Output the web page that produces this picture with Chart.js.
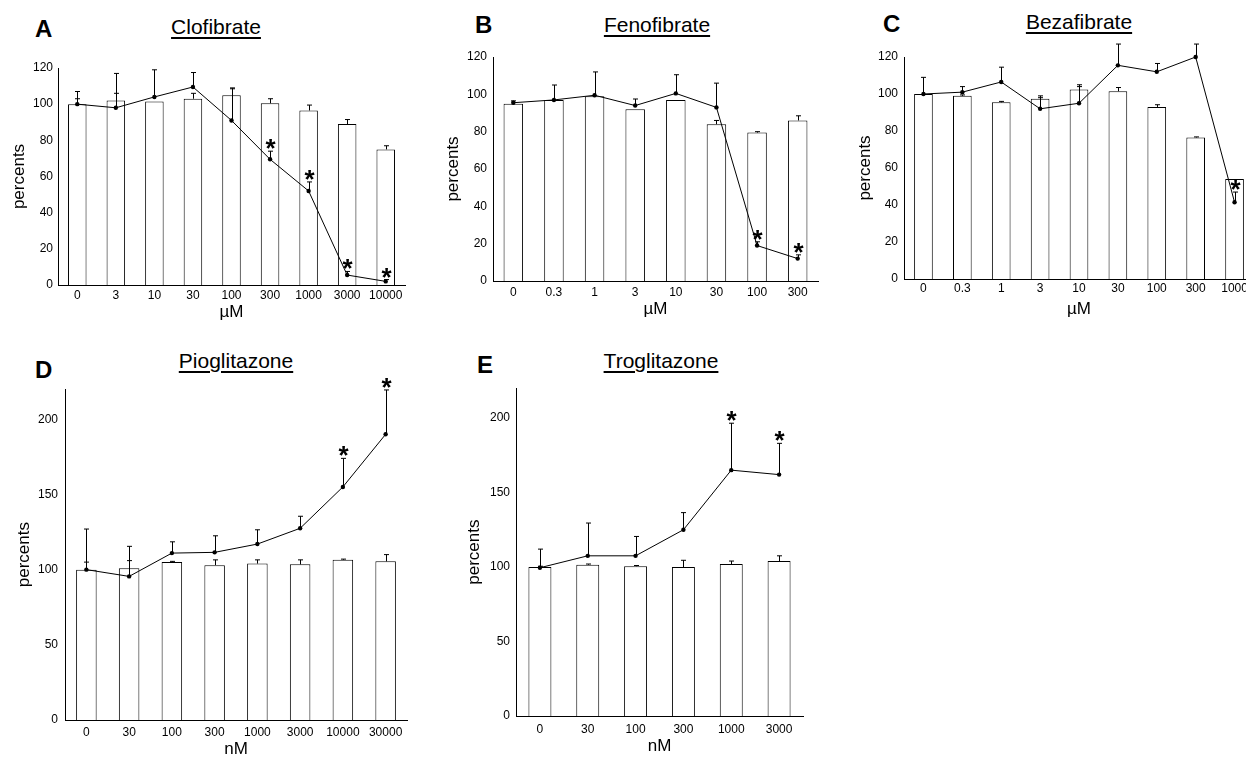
<!DOCTYPE html>
<html>
<head>
<meta charset="utf-8">
<title>Fibrates and glitazones</title>
<script src="https://cdn.jsdelivr.net/npm/chart.js@4.4.1/dist/chart.umd.min.js"></script>
<style>
    body { margin: 0; width: 1246px; height: 757px; overflow: hidden; background: #fff; position: relative;
           font-family: "Liberation Sans", Arial, sans-serif; color: #000; }
    canvas { position: absolute; }
    .letter { position: absolute; font-weight: bold; font-size: 24px; line-height: 24px; }
    .title { position: absolute; font-size: 21px; line-height: 21px; white-space: nowrap; transform: translateX(-50%);
             text-decoration: underline; text-decoration-thickness: 1.5px; text-underline-offset: 3px; }
</style>
</head>
<body>
<div class="letter" style="left:35px;top:17px">A</div>
<div class="title" style="left:216px;top:16px">Clofibrate</div>
<div class="letter" style="left:475px;top:13px">B</div>
<div class="title" style="left:657px;top:14px">Fenofibrate</div>
<div class="letter" style="left:883px;top:12px">C</div>
<div class="title" style="left:1079px;top:11px">Bezafibrate</div>
<div class="letter" style="left:35px;top:358px">D</div>
<div class="title" style="left:236px;top:350px">Pioglitazone</div>
<div class="letter" style="left:477px;top:353px">E</div>
<div class="title" style="left:661px;top:350px">Troglitazone</div>

<canvas id="chartA" width="415" height="285" style="left:0px;top:40px"></canvas>
<canvas id="chartB" width="392" height="281" style="left:436px;top:40px"></canvas>
<canvas id="chartC" width="417" height="280" style="left:847px;top:40px"></canvas>
<canvas id="chartD" width="409" height="385" style="left:8px;top:375px"></canvas>
<canvas id="chartE" width="354" height="382" style="left:459px;top:375px"></canvas>

<script>
// A - clofibrate (uM)
var clofibrateDoses = ["0", "3", "10", "30", "100", "300", "1000", "3000", "10000"];
var clofibrateBars = [100, 102, 101.5, 103, 105, 100.5, 96.5, 89, 75];
var clofibrateBarErr = [3, 4, 0, 3, 4, 2.5, 3, 2.5, 2];
var clofibrateLine = [100, 98, 104, 109.5, 91, 69.5, 52, 5.5, 2];
var clofibrateLineErr = [7, 19, 15, 8, 17.5, 4.5, 5, 2, 1];
var clofibrateStars = [0, 0, 0, 0, 0, 1, 1, 1, 1];

// B - fenofibrate (uM)
var fenofibrateDoses = ["0", "0.3", "1", "3", "10", "30", "100", "300"];
var fenofibrateBars = [95, 97, 99, 92, 97, 84, 79.5, 86];
var fenofibrateBarErr = [0, 0, 0, 0, 0, 2, 0.5, 2.5];
var fenofibrateLine = [95.5, 97, 99.5, 94, 100.5, 93, 19, 12];
var fenofibrateLineErr = [1, 8, 12.5, 3.5, 10, 13, 2, 2];
var fenofibrateStars = [0, 0, 0, 0, 0, 0, 1, 1];

// C - bezafibrate (uM)
var bezafibrateDoses = ["0", "0.3", "1", "3", "10", "30", "100", "300", "1000"];
var bezafibrateBars = [100, 99, 95.5, 97.5, 102.5, 101.5, 93, 76.5, 54];
var bezafibrateBarErr = [0, 0.5, 0.5, 1.5, 2.5, 2, 1.2, 0.3, 0];
var bezafibrateLine = [100, 101, 106.5, 92, 95, 115.5, 112, 120, 41.5];
var bezafibrateLineErr = [9, 3, 8, 6, 9, 11.5, 4.5, 7, 5.5];
var bezafibrateStars = [0, 0, 0, 0, 0, 0, 0, 0, 1];

// D - pioglitazone (nM)
var pioglitazoneDoses = ["0", "30", "100", "300", "1000", "3000", "10000", "30000"];
var pioglitazoneBars = [100, 101, 105, 103, 104, 103.5, 106.5, 105.5];
var pioglitazoneBarErr = [5, 5, 0.5, 3.5, 2.5, 3, 0.5, 4.5];
var pioglitazoneLine = [100, 95.5, 111, 111.5, 117, 127.5, 155, 190];
var pioglitazoneLineErr = [27, 20, 7.5, 11, 9.5, 8, 19, 29.5];
var pioglitazoneStars = [0, 0, 0, 0, 0, 0, 1, 1];

// E - troglitazone (nM)
var troglitazoneDoses = ["0", "30", "100", "300", "1000", "3000"];
var troglitazoneBars = [100, 101.5, 100.5, 100, 102, 104];
var troglitazoneBarErr = [0.5, 0.5, 0.5, 4.5, 2, 3.5];
var troglitazoneLine = [99.5, 107.5, 107.5, 125, 165, 162];
var troglitazoneLineErr = [12.5, 22, 13, 11.5, 31.5, 21];
var troglitazoneStars = [0, 0, 0, 0, 1, 1];

Chart.defaults.font.family = '"Liberation Sans", Arial, sans-serif';
Chart.defaults.color = "#000";
Chart.defaults.animation = false;

// error bars (upper half only) and significance asterisks
var errorBarsPlugin = {
    id: "errorBars",
    afterDatasetsDraw: function (chart) {
        var ctx = chart.ctx;
        var yScale = chart.scales.y;
        ctx.save();
        ctx.strokeStyle = "#000";
        ctx.fillStyle = "#000";
        ctx.lineWidth = 1;
        chart.data.datasets.forEach(function (ds, i) {
            var meta = chart.getDatasetMeta(i);
            meta.data.forEach(function (el, j) {
                var err = ds.errors[j];
                var x = Math.round(el.x) + 0.5;
                var yTop = yScale.getPixelForValue(ds.data[j] + err);
                if (err > 0) {
                    ctx.beginPath();
                    ctx.moveTo(x, yScale.getPixelForValue(ds.data[j]));
                    ctx.lineTo(x, yTop);
                    ctx.moveTo(x - 2.5, yTop);
                    ctx.lineTo(x + 2.5, yTop);
                    ctx.stroke();
                }
                if (ds.stars && ds.stars[j]) {
                    ctx.font = 'bold 26px "Liberation Sans", Arial, sans-serif';
                    ctx.textAlign = "center";
                    ctx.textBaseline = "alphabetic";
                    var m = ctx.measureText("*");
                    var cy = yTop - 7;
                    ctx.fillText("*", x, cy - (m.actualBoundingBoxDescent - m.actualBoundingBoxAscent) / 2);
                }
            });
        });
        ctx.restore();
    }
};

function create_panel(canvasId, doses, bars, barErr, line, lineErr, stars, yMax, yStep, unit, box) {
    var config = {
        data: {
            labels: doses,
            datasets: [
                {
                    type: "line",
                    data: line,
                    errors: lineErr,
                    stars: stars,
                    borderColor: "#000",
                    borderWidth: 1,
                    pointRadius: 2.2,
                    pointBackgroundColor: "#000",
                    pointBorderWidth: 0,
                    tension: 0,
                    clip: false,
                    order: 0,
                },
                {
                    type: "bar",
                    data: bars,
                    errors: barErr,
                    backgroundColor: "#fff",
                    borderColor: "#000",
                    borderWidth: 1,
                    barPercentage: 0.48,
                    categoryPercentage: 1,
                    order: 1,
                },
            ],
        },
        options: {
            responsive: false,
            maintainAspectRatio: false,
            devicePixelRatio: 1,
            layout: { padding: { top: box.padTop, right: box.padRight, left: 0, bottom: 0 } },
            plugins: { legend: { display: false }, tooltip: { enabled: false } },
            scales: {
                x: {
                    grid: { display: false, drawTicks: false },
                    border: { display: true, color: "#000", width: 1 },
                    ticks: { font: { size: 12 }, padding: box.xTickPad, maxRotation: 0, autoSkip: false },
                    title: { display: true, text: unit, font: { size: 17 }, padding: { top: 0, bottom: box.xTitlePad } },
                    afterFit: function (s) { s.height = box.xH; },
                },
                y: {
                    min: 0,
                    max: yMax,
                    grid: { display: false, drawTicks: false },
                    border: { display: true, color: "#000", width: 1 },
                    ticks: { stepSize: yStep, includeBounds: false, font: { size: 12 }, padding: box.yTickPad },
                    title: { display: true, text: "percents", font: { size: 17 }, padding: { top: box.yTitlePad, bottom: 0 } },
                    afterFit: function (s) { s.width = box.yW; },
                },
            },
        },
        plugins: [errorBarsPlugin],
    };
    return new Chart(canvasId, config);
}

create_panel("chartA", clofibrateDoses, clofibrateBars, clofibrateBarErr, clofibrateLine, clofibrateLineErr, clofibrateStars,
    120, 20, "\u00b5M", { padTop: 28, padRight: 10, yW: 58, xH: 40, xTickPad: 3, yTickPad: 5, xTitlePad: 2, yTitlePad: 9 });
create_panel("chartB", fenofibrateDoses, fenofibrateBars, fenofibrateBarErr, fenofibrateLine, fenofibrateLineErr, fenofibrateStars,
    120, 20, "\u00b5M", { padTop: 17, padRight: 10, yW: 57, xH: 40, xTickPad: 4, yTickPad: 6, xTitlePad: 1, yTitlePad: 7 });
create_panel("chartC", bezafibrateDoses, bezafibrateBars, bezafibrateBarErr, bezafibrateLine, bezafibrateLineErr, bezafibrateStars,
    120, 20, "\u00b5M", { padTop: 17, padRight: 10, yW: 57, xH: 41, xTickPad: 2, yTickPad: 6, xTitlePad: 0, yTitlePad: 8 });
create_panel("chartD", pioglitazoneDoses, pioglitazoneBars, pioglitazoneBarErr, pioglitazoneLine, pioglitazoneLineErr, pioglitazoneStars,
    220, 50, "nM", { padTop: 14, padRight: 10, yW: 57, xH: 40, xTickPad: 5, yTickPad: 7, xTitlePad: 0, yTitlePad: 6 });
create_panel("chartE", troglitazoneDoses, troglitazoneBars, troglitazoneBarErr, troglitazoneLine, troglitazoneLineErr, troglitazoneStars,
    220, 50, "nM", { padTop: 13, padRight: 10, yW: 57, xH: 41, xTickPad: 6, yTickPad: 6, xTitlePad: 0, yTitlePad: 5 });
</script>
</body>
</html>
